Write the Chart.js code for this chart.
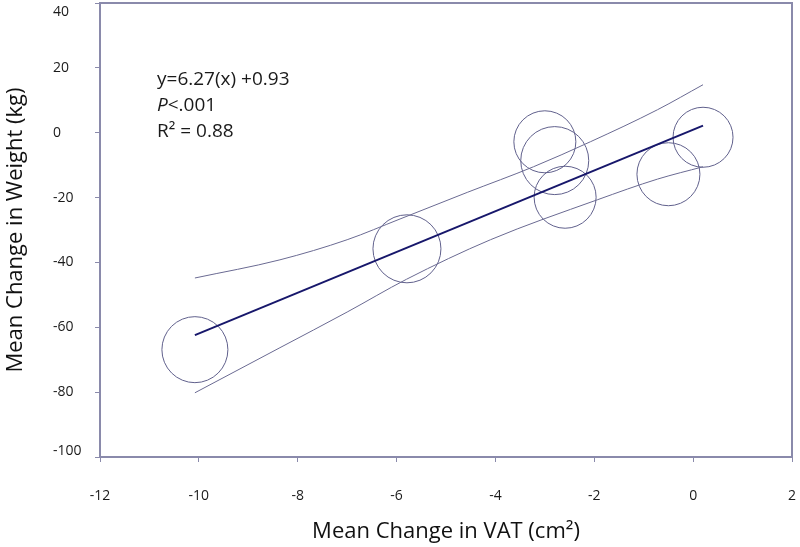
<!DOCTYPE html>
<html>
<head>
<meta charset="utf-8">
<script src="https://cdn.jsdelivr.net/npm/chart.js@4.4.1/dist/chart.umd.min.js"></script>
<style>
  html, body { margin: 0; padding: 0; background: #fff; }
  #wrap { width: 800px; height: 547px; }
</style>
</head>
<body>
<div id="wrap"><canvas id="vatChart" width="800" height="547"></canvas></div>
<script>
// values
var vatChange = [-10.08, -5.79, -3.0, -2.8, -2.59, -0.5, 0.2];
var weightChange = [-66.9, -35.8, -2.8, -8.6, -19.9, -12.8, -1.4];
var bubbleRadius = [33, 34, 31, 34, 31, 31.5, 30];

// fitted line end points
var fitX = [-10.08, 0.2];
var fitY = [-62.4, 2.2];

// confidence band
var upperX = [-10.08, -8.36, -7.0, -5.93, -4.57, -3.23, -2.08, -0.72, 0.2];
var upperY = [-44.8, -39.2, -33.0, -26.6, -18.4, -10.5, -2.8, 7.1, 14.8];
var lowerX = [-10.08, -8.36, -7.0, -5.8, -4.1, -1.94, -0.72, 0.2];
var lowerY = [-80.2, -66.3, -55.3, -45.2, -33.0, -20.7, -14.3, -10.5];

var xTicks = [-12, -10, -8, -6, -4, -2, 0, 2];
var yTicks = [40, 20, 0, -20, -40, -60, -80, -100];

var statLines = ['y=6.27(x) +0.93', '<.001', 'R\u00b2 = 0.88'];

var axisColor = '#8a8aab';
var circleColor = '#60608c';
var fontName = "'Open Sans', sans-serif";

// big bubbles should not push the plot area inward
Chart.BubbleController.prototype.getMaxOverflow = function () { return 0; };

function toPoints(xs, ys) {
    return xs.map(function (x, i) { return { x: x, y: ys[i] }; });
}

var bubbles = vatChange.map(function (x, i) {
    return { x: x, y: weightChange[i], r: bubbleRadius[i] };
});

// frame, left aligned y labels and the stats text
var extras = {
    id: 'extras',
    afterDraw: function (chart) {
        var ctx = chart.ctx;
        var a = chart.chartArea;
        var ys = chart.scales.y;
        ctx.save();
        ctx.strokeStyle = axisColor;
        ctx.lineWidth = 2;
        ctx.beginPath();
        ctx.moveTo(a.left, a.top);
        ctx.lineTo(a.right, a.top);
        ctx.lineTo(a.right, a.bottom);
        ctx.stroke();

        ctx.fillStyle = '#1a1a1a';
        ctx.font = '14px ' + fontName;
        ctx.textAlign = 'left';
        ctx.textBaseline = 'middle';
        yTicks.forEach(function (v) {
            var py = ys.getPixelForValue(v);
            py = Math.min(Math.max(py, a.top + 9), a.bottom - 6);
            ctx.fillText(String(v), 53, py);
        });

        ctx.font = '19px ' + fontName;
        ctx.textBaseline = 'alphabetic';
        ctx.fillText(statLines[0], 157, 85);
        ctx.font = 'italic 19px ' + fontName;
        ctx.fillText('P', 157, 111);
        var pw = ctx.measureText('P').width;
        ctx.font = '19px ' + fontName;
        ctx.fillText(statLines[1], 157 + pw, 111);
        ctx.fillText(statLines[2], 157, 137);
        ctx.restore();
    }
};

var ctx = document.getElementById('vatChart').getContext('2d');
var vatChart = new Chart(ctx, {
    type: 'bubble',
    data: {
        datasets: [{
            label: 'Studies',
            data: bubbles,
            backgroundColor: 'rgba(0,0,0,0)',
            borderColor: circleColor,
            borderWidth: 1,
            clip: false,
            order: 3
        }, {
            type: 'line',
            label: 'Upper',
            data: toPoints(upperX, upperY),
            borderColor: '#6a6a92',
            borderWidth: 1,
            pointRadius: 0,
            cubicInterpolationMode: 'monotone',
            fill: false,
            order: 2
        }, {
            type: 'line',
            label: 'Lower',
            data: toPoints(lowerX, lowerY),
            borderColor: '#6a6a92',
            borderWidth: 1,
            pointRadius: 0,
            cubicInterpolationMode: 'monotone',
            fill: false,
            order: 2
        }, {
            type: 'line',
            label: 'Fit',
            data: toPoints(fitX, fitY),
            borderColor: '#17176b',
            borderWidth: 2,
            pointRadius: 0,
            fill: false,
            order: 1
        }]
    },
    options: {
        responsive: false,
        animation: false,
        events: [],
        layout: { padding: { top: 3, right: 8, left: 0, bottom: 0 } },
        plugins: {
            legend: { display: false },
            tooltip: { enabled: false }
        },
        scales: {
            x: {
                type: 'linear',
                min: -12,
                max: 2,
                afterBuildTicks: function (scale) {
                    scale.ticks = xTicks.map(function (v) { return { value: v }; });
                },
                afterFit: function (scale) {
                    scale.height = 90;
                    // tick padding is only meant to push labels down
                    scale.paddingLeft = 0;
                    scale.paddingRight = 5;
                },
                border: { display: true, color: axisColor, width: 2 },
                grid: { drawOnChartArea: false, drawTicks: true, tickLength: 5, color: axisColor },
                ticks: {
                    padding: 26,
                    color: '#1a1a1a',
                    font: { family: fontName, size: 14 }
                },
                title: {
                    display: true,
                    text: 'Mean Change in VAT (cm\u00b2)',
                    color: '#111',
                    font: { family: fontName, size: 22 },
                    padding: { top: 4, bottom: 2 }
                }
            },
            y: {
                type: 'linear',
                min: -100,
                max: 40,
                afterBuildTicks: function (scale) {
                    scale.ticks = yTicks.map(function (v) { return { value: v }; });
                },
                afterFit: function (scale) { scale.width = 100; },
                border: { display: true, color: axisColor, width: 2 },
                grid: { drawOnChartArea: false, drawTicks: true, tickLength: 5, color: axisColor },
                ticks: { display: false },
                title: {
                    display: true,
                    text: 'Mean Change in Weight (kg)',
                    color: '#111',
                    font: { family: fontName, size: 22 },
                    padding: { top: 3, bottom: 3 }
                }
            }
        }
    },
    plugins: [extras]
});
</script>
</body>
</html>
